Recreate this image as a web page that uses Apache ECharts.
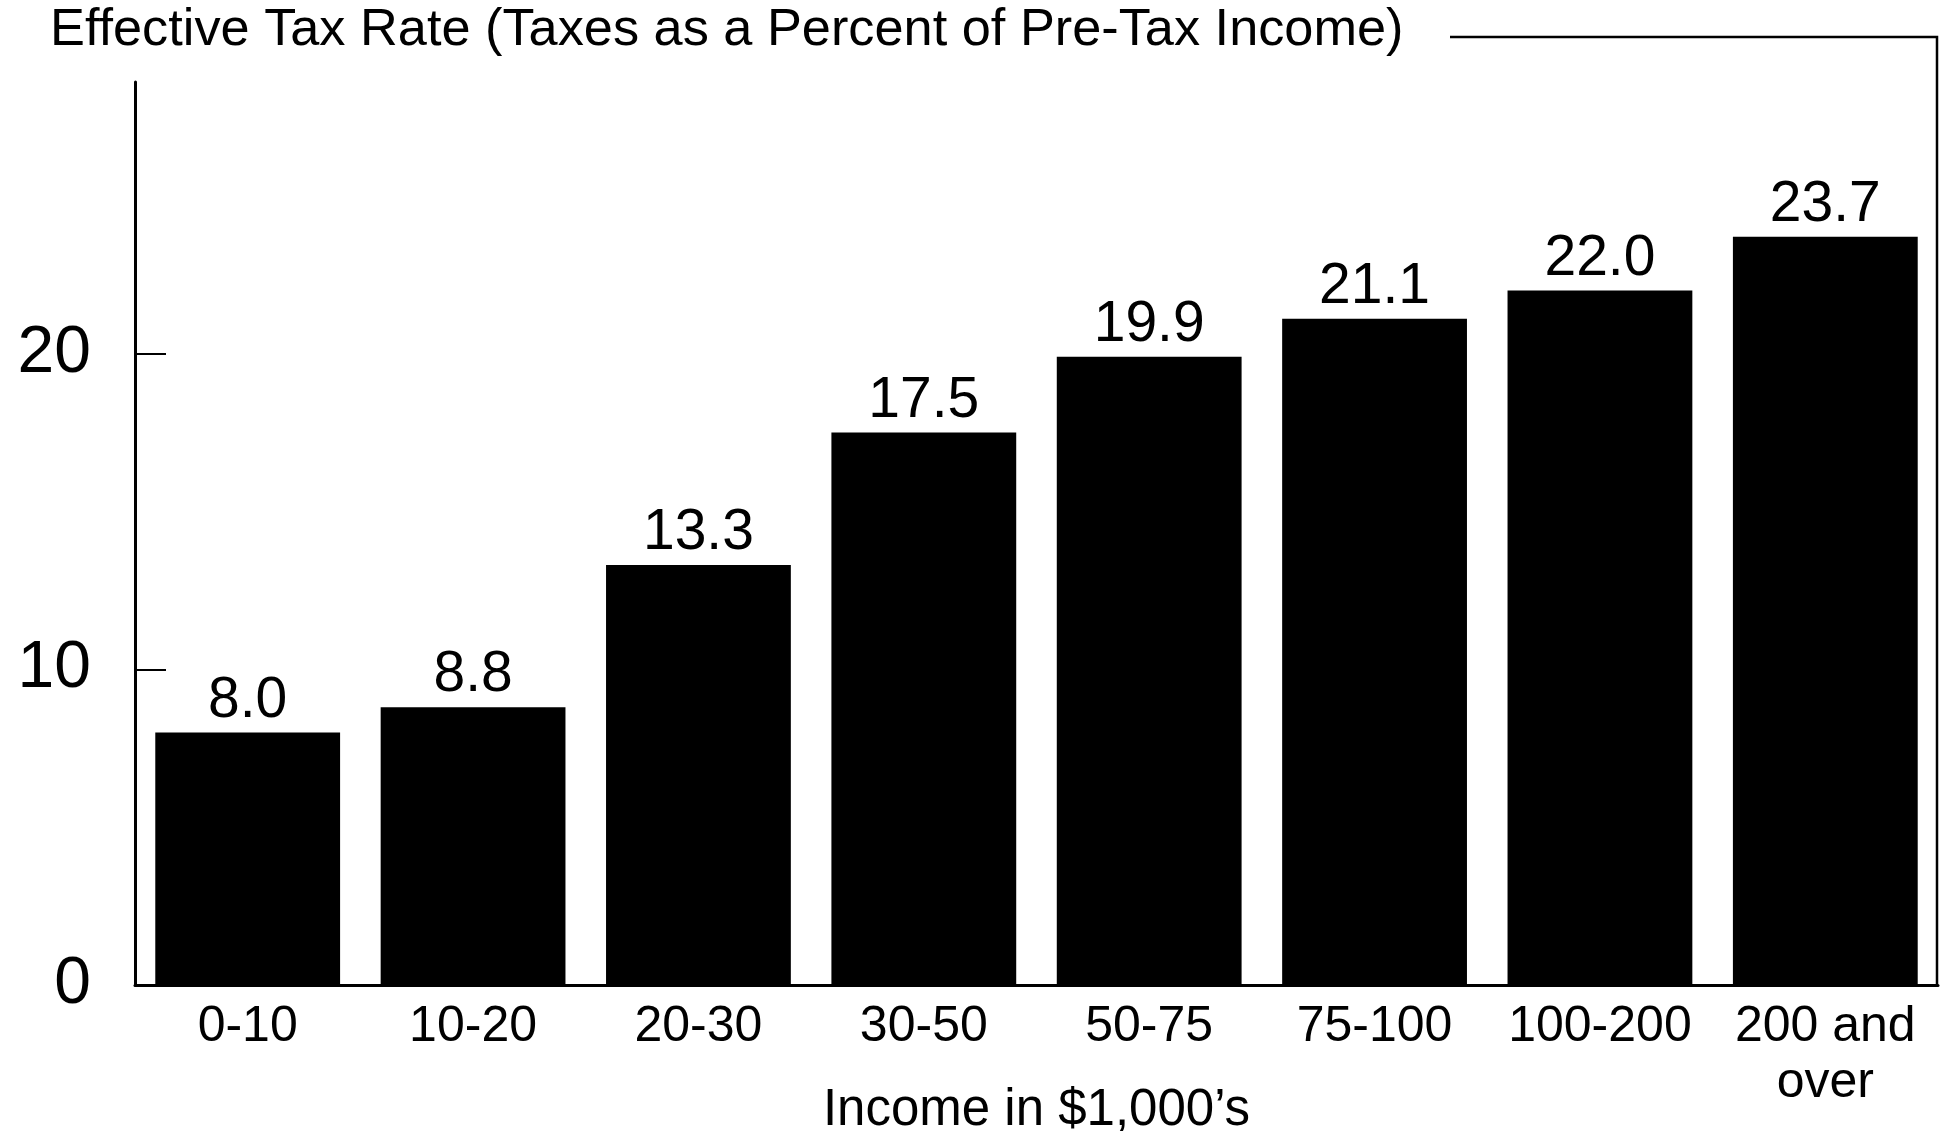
<!DOCTYPE html>
<html>
<head>
<meta charset="utf-8">
<script src="https://cdn.jsdelivr.net/npm/echarts@6/dist/echarts.min.js"></script>
<style>
html,body{margin:0;padding:0;background:#fff;}
#chart{width:1940px;height:1131px;}
</style>
</head>
<body>
<div id="chart"></div>
<script>
var titleText = 'Effective Tax Rate (Taxes as a Percent of Pre-Tax Income)';
var xAxisName = 'Income in $1,000\u2019s';
var categories = ['0-10', '10-20', '20-30', '30-50', '50-75', '75-100', '100-200', '200 and\nover'];
var rates = [8.0, 8.8, 13.3, 17.5, 19.9, 21.1, 22.0, 23.7];
var yTicks = [0, 10, 20];

var FONT = '"Liberation Sans", Arial, Helvetica, sans-serif';
var chart = echarts.init(document.getElementById('chart'));
chart.setOption({
  backgroundColor: '#ffffff',
  animation: false,
  title: {
    text: titleText,
    left: 50, top: 5, padding: 0,
    textStyle: {fontFamily: FONT, fontSize: 52.3, fontWeight: 'normal', color: '#000'}
  },
  grid: {left: 135, right: 2, top: 82, bottom: 146, outerBoundsMode: 'none', containLabel: false},
  xAxis: {
    type: 'category',
    data: categories,
    axisLine: {lineStyle: {color: '#000', width: 3}},
    axisTick: {show: false},
    axisLabel: {color: '#000', fontFamily: FONT, fontSize: 50, lineHeight: 56, margin: 14, interval: 0},
    name: xAxisName,
    nameLocation: 'middle',
    nameGap: 126,
    nameMoveOverlap: false,
    nameTextStyle: {color: '#000', fontFamily: FONT, fontSize: 51, verticalAlign: 'middle'}
  },
  yAxis: {
    type: 'value',
    min: 0, max: 28.6, interval: 10,
    splitLine: {show: false},
    axisLine: {show: true, lineStyle: {color: '#000', width: 3}},
    axisTick: {show: true, inside: true, length: 31, customValues: yTicks, lineStyle: {color: '#000', width: 2}},
    axisLabel: {color: '#000', fontFamily: FONT, fontSize: 66, margin: 44, customValues: yTicks}
  },
  series: [{
    type: 'bar',
    data: rates,
    barCategoryGap: '18%',
    itemStyle: {color: '#000'},
    label: {
      show: true, position: 'top', distance: 3,
      color: '#000', fontFamily: FONT, fontSize: 57,
      formatter: function (p) { return p.value.toFixed(1); }
    }
  }],
  graphic: [{
    type: 'polyline',
    shape: {points: [[1450, 37], [1937, 37], [1937, 985]]},
    style: {stroke: '#000', lineWidth: 2.5, fill: null}
  }]
});
</script>
</body>
</html>
